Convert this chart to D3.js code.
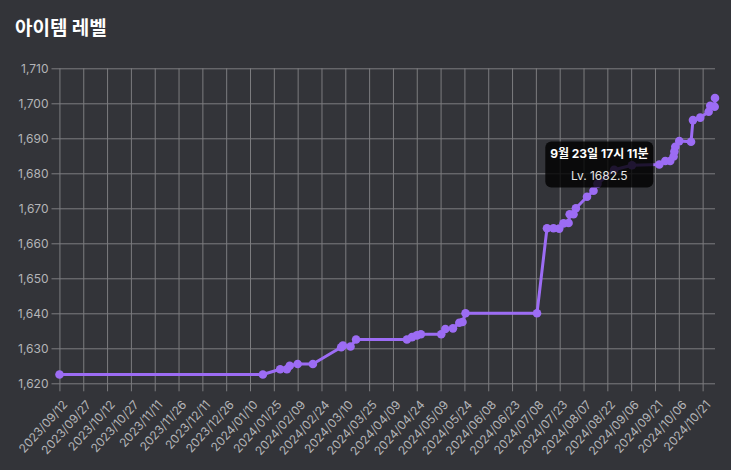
<!DOCTYPE html>
<html>
<head>
<meta charset="utf-8">
<script src="https://cdn.jsdelivr.net/npm/d3@7"></script>
<style>
  html, body { margin: 0; padding: 0; background: #333439; }
  #chart-area { width: 731px; height: 470px; }
  text { font-family: Inter, "Noto Sans CJK KR", sans-serif; }
</style>
</head>
<body>
<div id="chart-area"></div>
<script>
// item level history
var dates = [
  "2023-09-12T01:00", "2024-01-18T02:00", "2024-01-29T00:00", "2024-02-02T05:00",
  "2024-02-04T00:00", "2024-02-09T00:00", "2024-02-18T14:00", "2024-03-07T10:00",
  "2024-03-08T12:00", "2024-03-13T07:00", "2024-03-16T19:00", "2024-04-17T19:00",
  "2024-04-21T00:00", "2024-04-24T02:00", "2024-04-26T14:00", "2024-05-09T10:00",
  "2024-05-12T00:00", "2024-05-16T19:00", "2024-05-20T19:00", "2024-05-22T19:00",
  "2024-05-24T17:00", "2024-07-08T17:00", "2024-07-15T00:00", "2024-07-19T02:00",
  "2024-07-22T17:00", "2024-07-25T10:00", "2024-07-28T14:00", "2024-07-29T07:00",
  "2024-07-31T17:00", "2024-08-02T05:00", "2024-08-09T05:00", "2024-08-13T07:00",
  "2024-08-15T19:00", "2024-08-26T07:00", "2024-09-06T12:00", "2024-09-23T17:11",
  "2024-09-27T12:00", "2024-09-30T14:00", "2024-10-02T17:00", "2024-10-03T05:00",
  "2024-10-03T19:00", "2024-10-06T07:00", "2024-10-13T17:00", "2024-10-14T22:00",
  "2024-10-19T12:00", "2024-10-24T19:00", "2024-10-25T19:00", "2024-10-28T14:00",
  "2024-10-28T19:00"
];
var levels = [
  1622.5, 1622.5, 1624, 1624,
  1625, 1625.5, 1625.5, 1630.3,
  1630.8, 1630.5, 1632.5, 1632.5,
  1633.2, 1633.7, 1634, 1634,
  1635.5, 1635.7, 1637.3, 1637.5,
  1640, 1640, 1664.3, 1664.3,
  1664.2, 1665.7, 1665.8, 1668.3,
  1668.3, 1670, 1673.3, 1675,
  1677, 1681, 1682.3, 1682.5,
  1683.5, 1683.5, 1684.8, 1686.2,
  1687.6, 1689.2, 1689, 1695.2,
  1695.9, 1697.6, 1699.3, 1699,
  1701.5
];
var yTickValues = [1620, 1630, 1640, 1650, 1660, 1670, 1680, 1690, 1700, 1710];
var xTickLabels = [
  "2023/09/12", "2023/09/27", "2023/10/12", "2023/10/27", "2023/11/11", "2023/11/26",
  "2023/12/11", "2023/12/26", "2024/01/10", "2024/01/25", "2024/02/09", "2024/02/24",
  "2024/03/10", "2024/03/25", "2024/04/09", "2024/04/24", "2024/05/09", "2024/05/24",
  "2024/06/08", "2024/06/23", "2024/07/08", "2024/07/23", "2024/08/07", "2024/08/22",
  "2024/09/06", "2024/09/21", "2024/10/06", "2024/10/21"
];
var titleText = "아이템 레벨";
var hoverIndex = 35;
var hoverTitle = "9월 23일 17시 11분";
var hoverLabel = "Lv. ";

var parseTime = d3.timeParse("%Y-%m-%dT%H:%M");
var parseTick = d3.timeParse("%Y/%m/%d");

var data = dates.map(function(d, i) {
  return { date: parseTime(d), level: levels[i] };
});

var margins = { left: 59.5, right: 16, top: 68.3, bottom: 86.7 };
var W = 731, H = 470;

var svg = d3.select("#chart-area")
  .append("svg")
  .attr("width", W)
  .attr("height", H);

svg.append("rect")
  .attr("width", W)
  .attr("height", H)
  .attr("fill", "#333439");

svg.append("text")
  .attr("x", 15)
  .attr("y", 35)
  .attr("fill", "#ffffff")
  .style("font-size", "19px")
  .style("font-weight", "700")
  .style("font-family", "'Noto Sans CJK KR', sans-serif")
  .text(titleText);

var x = d3.scaleTime()
  .domain(d3.extent(data, function(d) { return d.date; }))
  .range([margins.left, W - margins.right]);

var y = d3.scaleLinear()
  .domain([1620, 1710])
  .range([H - margins.bottom, margins.top]);

var gridColor = "#7c7c7f";
var labelColor = "#b4b4b8";

// y grid + labels
var yAxis = svg.append("g")
  .attr("transform", "translate(" + margins.left + ",0)")
  .call(d3.axisLeft(y)
    .tickValues(yTickValues)
    .tickFormat(d3.format(","))
    .tickSize(-(W - margins.right - margins.left))
    .tickPadding(11));
yAxis.select(".domain").remove();
yAxis.selectAll(".tick line")
  .attr("x1", -8)
  .attr("stroke", gridColor);
yAxis.selectAll(".tick text")
  .attr("fill", labelColor)
  .style("font-size", "12px");

// x grid + labels
var xTicks = xTickLabels.map(function(t) { return parseTick(t); });
var xAxis = svg.append("g")
  .attr("transform", "translate(0," + (H - margins.bottom) + ")")
  .call(d3.axisBottom(x)
    .tickValues(xTicks)
    .tickFormat(d3.timeFormat("%Y/%m/%d"))
    .tickSize(-(H - margins.bottom - margins.top)));
xAxis.select(".domain").remove();
xAxis.selectAll(".tick line")
  .attr("y1", 8)
  .attr("stroke", gridColor);
xAxis.selectAll(".tick text")
  .attr("fill", labelColor)
  .style("font-size", "12px")
  .attr("text-anchor", "end")
  .attr("y", 0)
  .attr("dy", "0.35em")
  .attr("transform", "translate(5,19) rotate(-48)");

// line
var line = d3.line()
  .x(function(d) { return x(d.date); })
  .y(function(d) { return y(d.level); });

var purple = "#9c6cf4";

svg.append("path")
  .datum(data)
  .attr("d", line)
  .attr("fill", "none")
  .attr("stroke", purple)
  .attr("stroke-width", 3)
  .attr("stroke-linejoin", "round");

svg.selectAll(".dot")
  .data(data)
  .enter()
  .append("circle")
  .attr("class", "dot")
  .attr("cx", function(d) { return x(d.date); })
  .attr("cy", function(d) { return y(d.level); })
  .attr("r", 4.3)
  .attr("fill", purple);

// tooltip
var hp = data[hoverIndex];
var tipW = 108, tipH = 46;
var tipX = x(hp.date) - 6 - tipW;
var tipY = y(hp.level) - tipH / 2;
var tip = svg.append("g")
  .attr("transform", "translate(" + tipX + "," + tipY + ")");
tip.append("rect")
  .attr("width", tipW)
  .attr("height", tipH)
  .attr("rx", 6)
  .attr("fill", "rgba(0,0,0,0.8)");
tip.append("text")
  .attr("x", tipW / 2)
  .attr("y", 16)
  .attr("text-anchor", "middle")
  .attr("fill", "#ffffff")
  .style("font-size", "12px")
  .style("font-weight", "700")
  .text(hoverTitle);
tip.append("text")
  .attr("x", tipW / 2)
  .attr("y", 38)
  .attr("text-anchor", "middle")
  .attr("fill", "#e6e6e6")
  .style("font-size", "12px")
  .text(hoverLabel + hp.level);
</script>
</body>
</html>
